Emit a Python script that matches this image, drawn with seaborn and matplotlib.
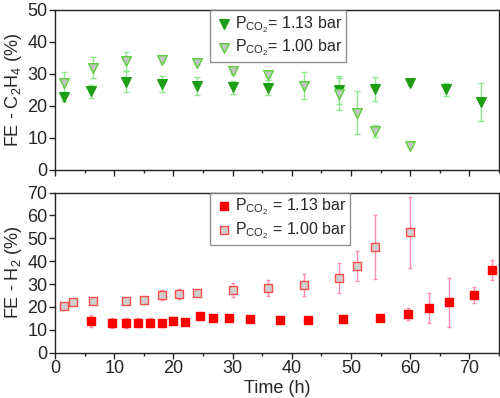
import numpy as np
import pandas as pd
import seaborn as sns
import matplotlib.pyplot as plt
from matplotlib.ticker import MultipleLocator

# FE - C2H4 data (top panel)
t_c2h4_113 = [1.5, 6, 12, 18, 24, 30, 36, 48, 54, 60, 66, 72]
fe_c2h4_113 = [22.9, 24.6, 27.6, 26.9, 26.3, 25.8, 25.7, 25.0, 25.2, 27.1, 25.2, 21.3]
err_c2h4_113 = [1.5, 2.0, 3.3, 2.6, 2.9, 2.0, 2.3, 4.5, 3.8, 0.5, 2.0, 6.0]

t_c2h4_100 = [1.5, 6.5, 12, 18, 24, 30, 36, 42, 48, 51, 54, 60]
fe_c2h4_100 = [27.3, 32.0, 33.9, 34.4, 33.5, 31.0, 29.7, 26.3, 23.8, 17.9, 12.2, 7.6]
err_c2h4_100 = [3.2, 3.4, 3.0, 0.8, 0.8, 1.0, 0.8, 4.2, 5.0, 6.7, 2.0, 0.5]

# FE - H2 data (bottom panel)
t_h2_113 = [6, 9.7, 12, 14, 16, 18, 20, 22, 24.5, 26.7, 29.4, 33, 38, 42.8, 48.7,
            54.9, 59.7, 63.1, 66.6, 70.8, 73.9]
fe_h2_113 = [13.9, 13.1, 13.1, 13.1, 13.1, 12.8, 13.9, 13.6, 16.2, 15.3, 15.0, 14.6,
             14.3, 14.3, 14.7, 15.3, 16.8, 19.4, 22.0, 25.2, 36.2]
err_h2_113 = [2.5, 2.2, 2.2, 2.0, 2.0, 1.5, 1.5, 1.0, 1.0, 1.0, 0.8, 0.8, 1.0, 1.0,
              1.0, 1.2, 2.7, 6.5, 10.7, 3.5, 4.5]

t_h2_100 = [1.5, 3, 6.5, 12, 15, 18, 21, 24, 30, 36, 42, 48, 51, 54, 60]
fe_h2_100 = [20.6, 22.3, 22.8, 22.8, 23.0, 25.2, 25.5, 26.2, 27.4, 28.2, 29.5, 32.5,
             38.0, 46.1, 52.7]
err_h2_100 = [0.5, 0.5, 0.5, 0.5, 0.5, 2.2, 2.2, 0.8, 3.0, 3.5, 4.8, 6.5, 6.6, 14.0, 15.5]

lbl_113 = "P$_{CO_2}$= 1.13 bar"
lbl_100 = "P$_{CO_2}$= 1.00 bar"
lbl_113b = "P$_{CO_2}$ = 1.13 bar"
lbl_100b = "P$_{CO_2}$ = 1.00 bar"

sns.set_style("ticks")
plt.rcParams["font.family"] = ["Liberation Sans", "DejaVu Sans"]
plt.rcParams["mathtext.default"] = "regular"
plt.rcParams["font.size"] = 10

fig = plt.figure(figsize=(5, 3.98), dpi=100)
ax1 = fig.add_axes([0.11, 0.573, 0.888, 0.402])
ax2 = fig.add_axes([0.11, 0.114, 0.888, 0.402])

green_err = "#8ee88e"
pink_err = "#ff8fb0"

# top panel
ax1.errorbar(t_c2h4_113, fe_c2h4_113, yerr=err_c2h4_113, fmt="none", ecolor=green_err,
             elinewidth=1, capsize=2.5, capthick=1, zorder=1)
ax1.errorbar(t_c2h4_100, fe_c2h4_100, yerr=err_c2h4_100, fmt="none", ecolor=green_err,
             elinewidth=1, capsize=2.5, capthick=1, zorder=1)
sns.scatterplot(x=t_c2h4_113, y=fe_c2h4_113, ax=ax1, marker="v", s=48, color="#1e9e14",
                edgecolor="#1e9e14", linewidth=1, label=lbl_113, zorder=3)
sns.scatterplot(x=t_c2h4_100, y=fe_c2h4_100, ax=ax1, marker="v", s=48, color="#c4c4c4",
                edgecolor="#5ccf3c", linewidth=1, label=lbl_100, zorder=3)

# bottom panel
ax2.errorbar(t_h2_113, fe_h2_113, yerr=err_h2_113, fmt="none", ecolor=pink_err,
             elinewidth=1, capsize=1.5, capthick=1, zorder=1)
ax2.errorbar(t_h2_100, fe_h2_100, yerr=err_h2_100, fmt="none", ecolor=pink_err,
             elinewidth=1, capsize=1.5, capthick=1, zorder=1)
sns.scatterplot(x=t_h2_113, y=fe_h2_113, ax=ax2, marker="s", s=32, color="#ff0000",
                edgecolor="#ff0000", linewidth=1, label=lbl_113b, zorder=3)
sns.scatterplot(x=t_h2_100, y=fe_h2_100, ax=ax2, marker="s", s=32, color="#cfcfcf",
                edgecolor="#ff4d4d", linewidth=1, label=lbl_100b, zorder=3)

for ax in (ax1, ax2):
    ax.set_xlim(0, 75)
    ax.xaxis.set_major_locator(MultipleLocator(10))
    ax.xaxis.set_minor_locator(MultipleLocator(5))
    ax.tick_params(axis="both", which="major", direction="out", length=4, width=1,
                   labelsize=13, pad=1.5)
    ax.tick_params(axis="x", which="minor", direction="out", length=2.5, width=1)
    for sp in ax.spines.values():
        sp.set_visible(True)
        sp.set_linewidth(1)
        sp.set_color("#222222")
    leg = ax.legend(loc="upper left", bbox_to_anchor=(0.349, 1.0), borderaxespad=0,
                    frameon=True, fancybox=False, edgecolor="#777777", fontsize=11.5,
                    handletextpad=0.1, borderpad=0.25, labelspacing=0.2,
                    handlelength=1.2, scatterpoints=1)
    leg.get_frame().set_linewidth(1)

ax1.set_ylim(0, 50)
ax1.yaxis.set_major_locator(MultipleLocator(10))
ax1.set_xticklabels([])
ax1.set_ylabel("FE - C$_2$H$_4$ (%)", fontsize=13, labelpad=2)

ax2.set_ylim(0, 70)
ax2.yaxis.set_major_locator(MultipleLocator(10))
ax2.set_ylabel("FE - H$_2$ (%)", fontsize=13, labelpad=2)
ax2.set_xlabel("Time (h)", fontsize=13, labelpad=2)

fig.savefig("out.png", dpi=100)
